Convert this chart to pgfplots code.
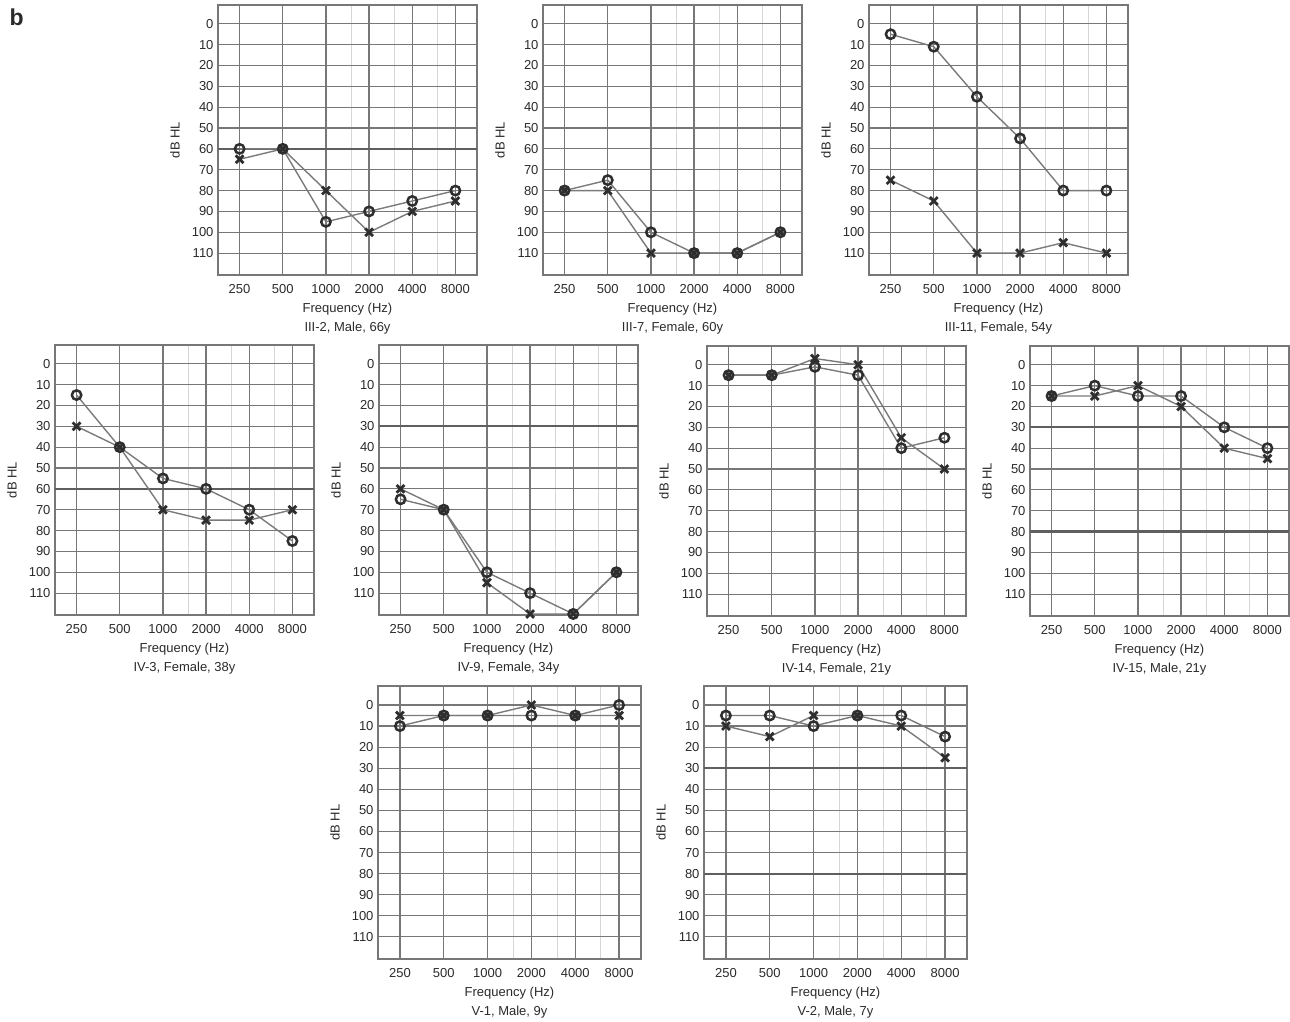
\documentclass[border=0pt]{standalone}
\usepackage{pgfplots}
\pgfplotsset{compat=1.18}
\usepackage{fontspec}
\setmainfont{Liberation Sans}
\definecolor{gridc}{HTML}{777777}
\definecolor{minorc}{HTML}{D6D6D6}
\definecolor{linec}{HTML}{7A7A7A}
\definecolor{markc}{HTML}{2E2E2E}
\definecolor{txt}{HTML}{2A2A2A}
\newcommand{\tfont}{\fontsize{13}{15.5}\selectfont}
\pgfplotsset{
 aud/.style={
  scale only axis, width=259pt, height=270pt,
  anchor=north west,
  xmin=-0.5, xmax=5.5, ymin=-9, ymax=120.5, y dir=reverse,
  xtick={0,...,5}, xticklabels={250,500,1000,2000,4000,8000},
  minor xtick={2.585,3.585,4.585},
  ytick={0,10,...,110},
  grid=both,
  major grid style={gridc, line width=1.2pt},
  minor grid style={minorc, line width=1pt},
  axis line style={gridc, line width=1.3pt},
  major tick length=0pt, minor tick length=0pt,
  tick label style={font=\tfont, text=txt},
  /pgf/number format/assume math mode=true,
  xticklabel style={anchor=center, yshift=-14pt},
  yticklabel style={anchor=east, xshift=-1pt},
  ylabel={dB HL},
  ylabel style={at={(axis description cs:0,0.5)}, anchor=center, yshift=43pt, font=\tfont, text=txt},
  clip=false,
 },
 eo/.style={linec, line width=1.4pt, mark=o, mark size=4.7pt, mark options={draw=markc, line width=2.5pt}},
 ex/.style={linec, line width=1.4pt, mark=x, mark size=5.5pt, mark options={draw=markc, line width=2.8pt}},
 heavy/.style={extra y ticks={#1}, extra y tick labels={}, extra y tick style={grid=major, major grid style={gridc!80!black, line width=2.2pt}}},
}
\newcommand{\caps}[1]{%
  \node[font=\tfont, text=txt] at (axis description cs:0.5,0) [yshift=-34pt] {Frequency (Hz)};
  \node[font=\tfont, text=txt] at (axis description cs:0.5,0) [yshift=-53pt] {#1};}
\begin{document}
\begin{tikzpicture}
\useasboundingbox (0pt,0pt) rectangle (1290pt,-1022pt);
\node[anchor=base west, font=\fontsize{23}{26}\selectfont\bfseries, text=txt] at (6pt,-26pt) {b};

% III-2
\begin{axis}[aud, heavy={60}, at={(218pt,-5pt)}]
\addplot[eo] coordinates {(0,60)(1,60)(2,95)(3,90)(4,85)(5,80)};
\addplot[ex] coordinates {(0,65)(1,60)(2,80)(3,100)(4,90)(5,85)};
\caps{III-2, Male, 66y}
\end{axis}
% III-7
\begin{axis}[aud, at={(543pt,-5pt)}]
\addplot[eo] coordinates {(0,80)(1,75)(2,100)(3,110)(4,110)(5,100)};
\addplot[ex] coordinates {(0,80)(1,80)(2,110)(3,110)(4,110)(5,100)};
\caps{III-7, Female, 60y}
\end{axis}
% III-11
\begin{axis}[aud, at={(869pt,-5pt)}]
\addplot[eo] coordinates {(0,5)(1,11)(2,35)(3,55)(4,80)(5,80)};
\addplot[ex] coordinates {(0,75)(1,85)(2,110)(3,110)(4,105)(5,110)};
\caps{III-11, Female, 54y}
\end{axis}
% IV-3
\begin{axis}[aud, heavy={60}, at={(55pt,-345pt)}]
\addplot[eo] coordinates {(0,15)(1,40)(2,55)(3,60)(4,70)(5,85)};
\addplot[ex] coordinates {(0,30)(1,40)(2,70)(3,75)(4,75)(5,70)};
\caps{IV-3, Female, 38y}
\end{axis}
% IV-9
\begin{axis}[aud, heavy={30}, at={(379pt,-345pt)}]
\addplot[eo] coordinates {(0,65)(1,70)(2,100)(3,110)(4,120)(5,100)};
\addplot[ex] coordinates {(0,60)(1,70)(2,105)(3,120)(4,120)(5,100)};
\caps{IV-9, Female, 34y}
\end{axis}
% IV-14
\begin{axis}[aud, at={(707pt,-346pt)}]
\addplot[eo] coordinates {(0,5)(1,5)(2,1)(3,5)(4,40)(5,35)};
\addplot[ex] coordinates {(0,5)(1,5)(2,-3)(3,0)(4,35)(5,50)};
\caps{IV-14, Female, 21y}
\end{axis}
% IV-15
\begin{axis}[aud, heavy={30,80}, at={(1030pt,-346pt)}]
\addplot[eo] coordinates {(0,15)(1,10)(2,15)(3,15)(4,30)(5,40)};
\addplot[ex] coordinates {(0,15)(1,15)(2,10)(3,20)(4,40)(5,45)};
\caps{IV-15, Male, 21y}
\end{axis}
% V-1
\begin{axis}[aud, width=263pt, height=273pt, at={(378pt,-686pt)}]
\addplot[eo] coordinates {(0,10)(1,5)(2,5)(3,5)(4,5)(5,0)};
\addplot[ex] coordinates {(0,5)(1,5)(2,5)(3,0)(4,5)(5,5)};
\caps{V-1, Male, 9y}
\end{axis}
% V-2
\begin{axis}[aud, heavy={30,80}, width=263pt, height=273pt, at={(704pt,-686pt)}]
\addplot[eo] coordinates {(0,5)(1,5)(2,10)(3,5)(4,5)(5,15)};
\addplot[ex] coordinates {(0,10)(1,15)(2,5)(3,5)(4,10)(5,25)};
\caps{V-2, Male, 7y}
\end{axis}
\end{tikzpicture}
\end{document}
